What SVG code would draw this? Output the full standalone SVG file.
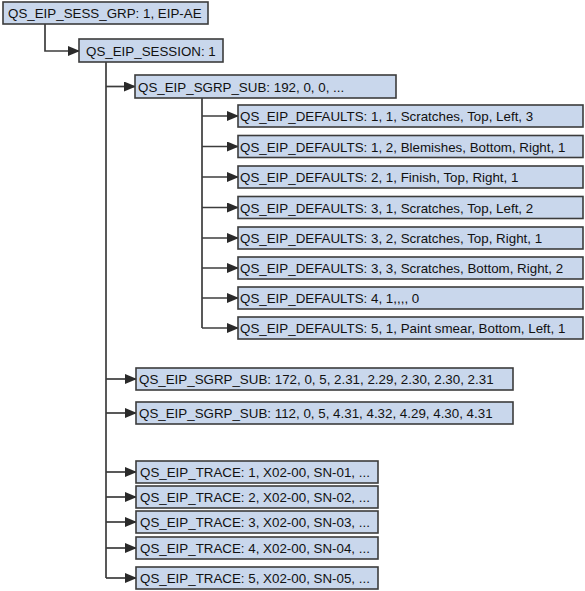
<svg xmlns="http://www.w3.org/2000/svg" width="585" height="591" viewBox="0 0 585 591">
<style>
.box{fill:#c9d7ec;stroke:#3c3c3c;stroke-width:1.6}
.t{font-family:"Liberation Sans",Arial,sans-serif;font-size:13.35px;fill:#111}
.c{fill:none;stroke:#3c3c3c;stroke-width:1.7}
</style>
<defs>
<marker id="ah" markerWidth="12" markerHeight="10" refX="11" refY="5" orient="auto" markerUnits="userSpaceOnUse">
<path d="M0,0 L12,5 L0,10 Z" fill="#2a2a2a"/>
</marker>
</defs>
<rect width="585" height="591" fill="#fff"/>
<g id="connectors">
<path class="c" d="M45,24 V51 H79" marker-end="url(#ah)"/>
<path class="c" d="M106,62 V578"/>
<path class="c" d="M106,86.5 H135" marker-end="url(#ah)"/>
<path class="c" d="M106,379 H136" marker-end="url(#ah)"/>
<path class="c" d="M106,413 H136" marker-end="url(#ah)"/>
<path class="c" d="M106,472 H136" marker-end="url(#ah)"/>
<path class="c" d="M106,497 H136" marker-end="url(#ah)"/>
<path class="c" d="M106,522 H136" marker-end="url(#ah)"/>
<path class="c" d="M106,548 H136" marker-end="url(#ah)"/>
<path class="c" d="M106,578 H136" marker-end="url(#ah)"/>
<path class="c" d="M202,98 V328"/>
<path class="c" d="M202,116 H238" marker-end="url(#ah)"/>
<path class="c" d="M202,146.5 H238" marker-end="url(#ah)"/>
<path class="c" d="M202,177 H238" marker-end="url(#ah)"/>
<path class="c" d="M202,207.5 H238" marker-end="url(#ah)"/>
<path class="c" d="M202,238 H238" marker-end="url(#ah)"/>
<path class="c" d="M202,268 H238" marker-end="url(#ah)"/>
<path class="c" d="M202,298 H238" marker-end="url(#ah)"/>
<path class="c" d="M202,328 H238" marker-end="url(#ah)"/>
</g>
<g id="n-sess-grp"><rect class="box" x="3" y="2" width="205" height="22"/><text class="t" x="8" y="18">QS_EIP_SESS_GRP: 1, EIP-AE</text></g>
<g id="n-session"><rect class="box" x="79" y="39" width="144" height="23"/><text class="t" x="86" y="55.5">QS_EIP_SESSION: 1</text></g>
<g id="n-sgrp-192"><rect class="box" x="135" y="75" width="261" height="23"/><text class="t" x="138" y="91.5">QS_EIP_SGRP_SUB: 192, 0, 0, ...</text></g>
<g id="n-def-1"><rect class="box" x="238" y="105" width="345" height="22"/><text class="t" x="240" y="121">QS_EIP_DEFAULTS: 1, 1, Scratches, Top, Left, 3</text></g>
<g id="n-def-2"><rect class="box" x="238" y="135.5" width="345" height="22"/><text class="t" x="240" y="151.5">QS_EIP_DEFAULTS: 1, 2, Blemishes, Bottom, Right, 1</text></g>
<g id="n-def-3"><rect class="box" x="238" y="166" width="345" height="22"/><text class="t" x="240" y="182">QS_EIP_DEFAULTS: 2, 1, Finish, Top, Right, 1</text></g>
<g id="n-def-4"><rect class="box" x="238" y="196.5" width="345" height="22"/><text class="t" x="240" y="212.5">QS_EIP_DEFAULTS: 3, 1, Scratches, Top, Left, 2</text></g>
<g id="n-def-5"><rect class="box" x="238" y="227" width="345" height="22"/><text class="t" x="240" y="243">QS_EIP_DEFAULTS: 3, 2, Scratches, Top, Right, 1</text></g>
<g id="n-def-6"><rect class="box" x="238" y="257" width="345" height="22"/><text class="t" x="240" y="273">QS_EIP_DEFAULTS: 3, 3, Scratches, Bottom, Right, 2</text></g>
<g id="n-def-7"><rect class="box" x="238" y="287" width="345" height="22"/><text class="t" x="240" y="303">QS_EIP_DEFAULTS: 4, 1,,,, 0</text></g>
<g id="n-def-8"><rect class="box" x="238" y="317" width="345" height="22"/><text class="t" x="240" y="333">QS_EIP_DEFAULTS: 5, 1, Paint smear, Bottom, Left, 1</text></g>
<g id="n-sgrp-172"><rect class="box" x="136" y="368" width="377" height="22"/><text class="t" x="139" y="384">QS_EIP_SGRP_SUB: 172, 0, 5, 2.31, 2.29, 2.30, 2.30, 2.31</text></g>
<g id="n-sgrp-112"><rect class="box" x="136" y="402" width="377" height="22"/><text class="t" x="139" y="418">QS_EIP_SGRP_SUB: 112, 0, 5, 4.31, 4.32, 4.29, 4.30, 4.31</text></g>
<g id="n-trace-1"><rect class="box" x="136" y="461" width="242" height="22"/><text class="t" x="140" y="477">QS_EIP_TRACE: 1, X02-00, SN-01, ...</text></g>
<g id="n-trace-2"><rect class="box" x="136" y="486" width="242" height="22"/><text class="t" x="140" y="502">QS_EIP_TRACE: 2, X02-00, SN-02, ...</text></g>
<g id="n-trace-3"><rect class="box" x="136" y="511" width="242" height="22"/><text class="t" x="140" y="527">QS_EIP_TRACE: 3, X02-00, SN-03, ...</text></g>
<g id="n-trace-4"><rect class="box" x="136" y="537" width="242" height="22"/><text class="t" x="140" y="553">QS_EIP_TRACE: 4, X02-00, SN-04, ...</text></g>
<g id="n-trace-5"><rect class="box" x="136" y="567" width="242" height="22"/><text class="t" x="140" y="583">QS_EIP_TRACE: 5, X02-00, SN-05, ...</text></g>
</svg>
